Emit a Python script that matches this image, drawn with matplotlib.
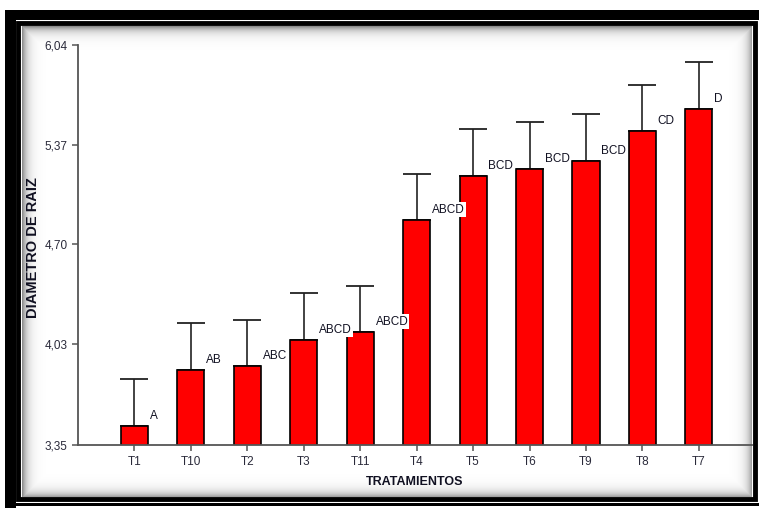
import numpy as np
import matplotlib
matplotlib.use('Agg')
import matplotlib.pyplot as plt
from matplotlib.patches import Rectangle

plt.rcParams['font.family'] = ['Liberation Sans', 'DejaVu Sans']

# treatment means (root diameter) and their standard errors
tratamientos = ['T1', 'T10', 'T2', 'T3', 'T11', 'T4', 'T5', 'T6', 'T9', 'T8', 'T7']
medias = [3.478, 3.854, 3.881, 4.056, 4.110, 4.863, 5.159, 5.206, 5.260, 5.462, 5.610]
errores = [0.316, 0.316, 0.310, 0.316, 0.309, 0.309, 0.316, 0.316, 0.316, 0.309, 0.316]
grupos = ['A', 'AB', 'ABC', 'ABCD', 'ABCD', 'ABCD', 'BCD', 'BCD', 'BCD', 'CD', 'D']
yticks = [3.35, 4.03, 4.70, 5.37, 6.04]
ytick_labels = ['3,35', '4,03', '4,70', '5,37', '6,04']

W, H = 759, 508
fig = plt.figure(figsize=(W / 100, H / 100), dpi=100)
fig.patch.set_facecolor('white')

# background with soft inner shadow inside the frame
bg = fig.add_axes([0, 0, 1, 1], zorder=0)
bg.set_xlim(0, W)
bg.set_ylim(H, 0)
bg.axis('off')
x0, y0, x1, y1 = 22, 26, 752, 497
xx, yy = np.meshgrid(np.arange(x0, x1), np.arange(y0, y1))
d = np.minimum.reduce([xx - x0, x1 - xx, yy - y0, y1 - yy]).astype(float)
shade = 1 - 0.45 * np.exp(-d / 5.0)
bg.imshow(shade, cmap='gray', vmin=0, vmax=1, extent=(x0, x1, y1, y0),
          interpolation='bilinear', aspect='auto')
# frame lines
bg.add_patch(Rectangle((5, 10), 11, H - 10, color='black', lw=0))
bg.add_patch(Rectangle((5, 10), W - 5, 10, color='black', lw=0))
bg.add_patch(Rectangle((18, 22.5), 737, 476, fill=False, ec='black', lw=3.5))
bg.add_patch(Rectangle((5, 503), W - 5, 3, color='black', lw=0))

ax = fig.add_axes([78 / W, 1 - 445 / H, (752 - 78) / W, 400 / H], zorder=1)
ax.set_facecolor('none')
x = np.arange(len(tratamientos))
ax.bar(x, medias, width=0.48, bottom=0, color='#ff0000', edgecolor='black',
       linewidth=1.2, zorder=2)
ax.errorbar(x, medias, yerr=[np.zeros(len(x)), errores], fmt='none',
            ecolor='#222222', elinewidth=1.2, capsize=9.8, capthick=1.3, zorder=1)

for xi, m, g in zip(x, medias, grupos):
    ax.annotate(g, (xi, m), xytext=(11, 7.5), textcoords='offset points',
                ha='left', va='center', fontsize=8.5, color='#111122',
                bbox=dict(boxstyle='square,pad=0.1', fc='white', ec='none'),
                zorder=3)

ax.set_ylim(3.35, 6.04)
ax.set_xlim(-1.0, 10.94)
ax.set_yticks(yticks)
ax.set_yticklabels(ytick_labels)
ax.set_xticks(x)
ax.set_xticklabels(tratamientos)
for s in ['top', 'right']:
    ax.spines[s].set_visible(False)
for s in ['left', 'bottom']:
    ax.spines[s].set_color('#555555')
    ax.spines[s].set_linewidth(1.3)
ax.tick_params(axis='both', colors='#555555', length=4, width=1.1,
               labelcolor='#2a2a3a', labelsize=8.5)
ax.tick_params(axis='x', pad=4)

ax.set_xlabel('TRATAMIENTOS', fontsize=9, fontweight='bold', color='#111122', labelpad=6)
fig.text(33 / W, 1 - 248 / H, 'DIAMETRO DE RAIZ', rotation=90, ha='center', va='center',
         fontsize=10.5, fontweight='bold', color='#111122', zorder=5)

fig.savefig('out.png', dpi=100)
